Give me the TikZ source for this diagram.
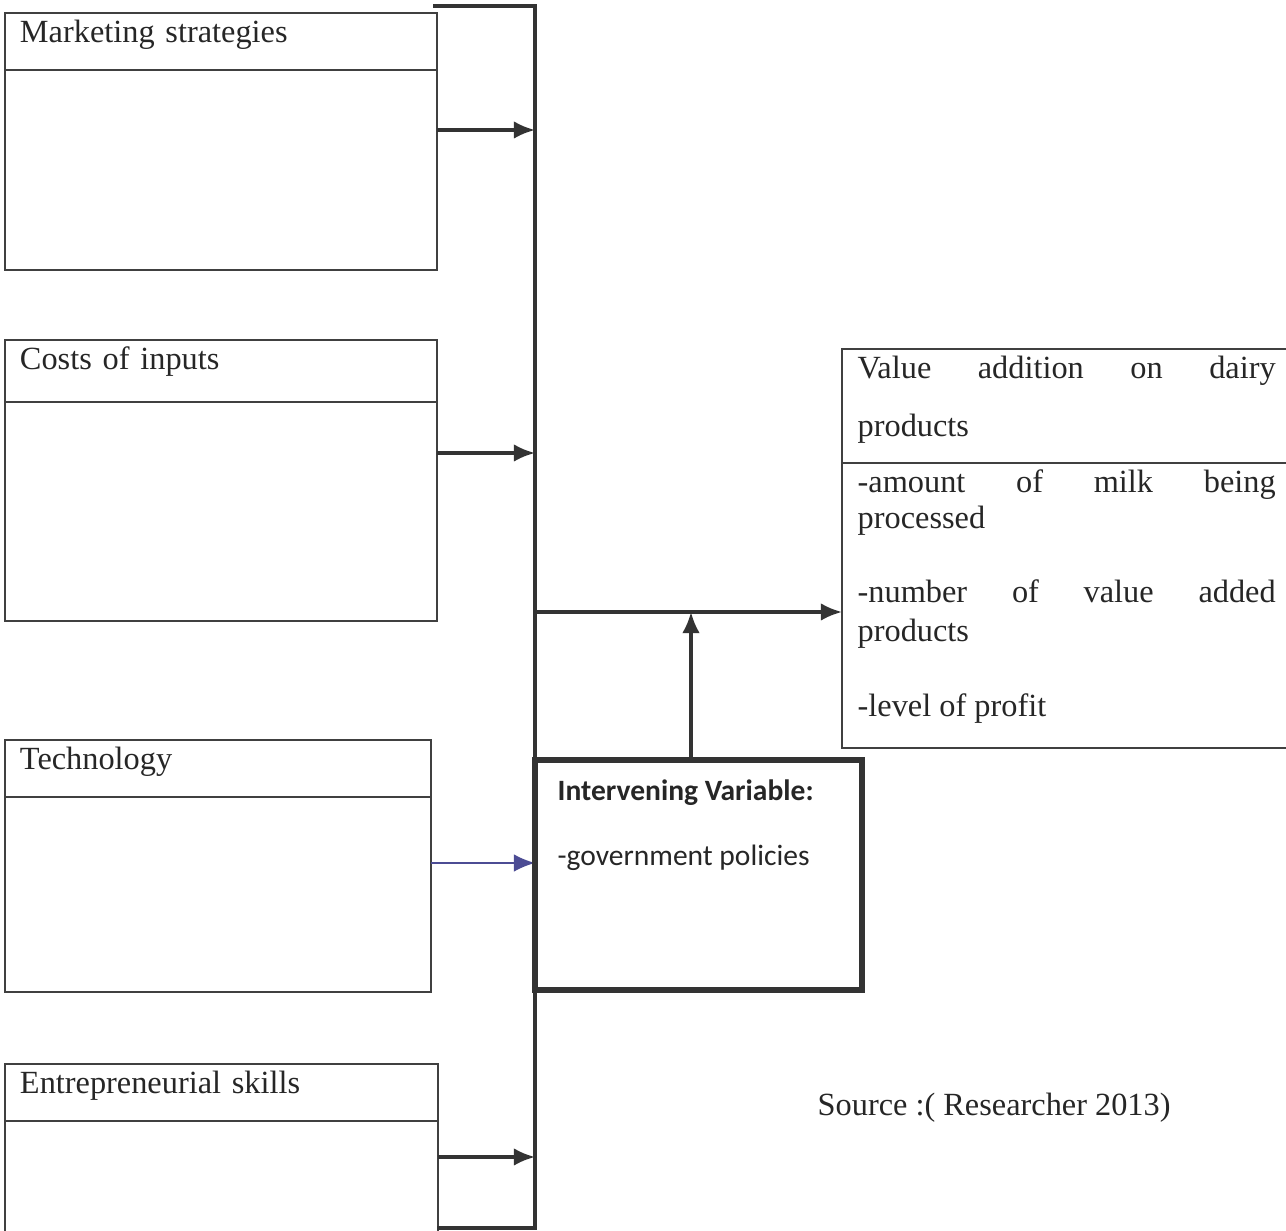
\documentclass[tikz,border=0pt]{standalone}
\usepackage{fontspec}
\setmainfont{Liberation Serif}
\newfontfamily\ivfont{Carlito}
\usetikzlibrary{positioning,arrows.meta}

\newcommand{\jline}[1]{\makebox[4.18cm][s]{#1}}

\tikzset{
  txt/.style={inner sep=0pt, font=\fontsize{9.2}{11}\selectfont, text=black!85},
  head/.style={txt, draw=black!75, line width=.6pt, anchor=north west,
    inner xsep=.15cm, inner ysep=.06cm, outer sep=0pt,
    text width=#1, text height=.24cm, text depth=.21cm, align=left},
  body/.style={draw=black!75, line width=.6pt, inner sep=0pt, outer sep=0pt},
  bar/.style={draw=black!80, line width=.9pt},
  ivbox/.style={draw=black!80, line width=1.5pt, inner sep=0pt, outer sep=0pt, anchor=north west},
  ivtxt/.style={inner sep=0pt, font=\ivfont\fontsize{8.4}{10}\selectfont, text=black!85, anchor=base west},
  arr/.style={-{Latex[length=6pt,width=5pt]}, draw=black!80, line width=.9pt}
}

\begin{document}
\begin{tikzpicture}
\useasboundingbox (0,0) rectangle (12.86,-12.31);

% independent variables
\node[head=4.02cm] (ms) at (0.05,-0.13) {Marketing strategies};
\node[body, minimum width=4.32cm, minimum height=2.00cm, below=0pt of ms] (msb) {};

\node[head=4.02cm, text depth=.26cm] (ci) at (0.05,-3.40) {Costs of inputs};
\node[body, minimum width=4.32cm, minimum height=2.19cm, below=0pt of ci] (cib) {};

\node[head=3.96cm] (tech) at (0.05,-7.40) {Technology};
\node[body, minimum width=4.26cm, minimum height=1.95cm, below=0pt of tech] (techb) {};

\node[head=4.03cm] (es) at (0.05,-10.64) {Entrepreneurial skills};
\node[body, minimum width=4.33cm, minimum height=1.40cm, below=0pt of es] (esb) {};

% bracket
\draw[bar] (4.33,-0.06) -- (5.35,-0.06) -- (5.35,-12.28) -- (4.37,-12.28);
\coordinate (a1) at (5.35,-1.30);
\coordinate (a2) at (5.35,-4.53);
\coordinate (a3) at (5.35,-8.63);
\coordinate (a4) at (5.35,-11.57);
\coordinate (j) at (5.35,-6.12);
\coordinate (k) at (6.91,-6.12);

\draw[arr] (msb.east |- a1) -- (a1);
\draw[arr] (cib.east |- a2) -- (a2);
\draw[arr, draw=blue!40!black!70, line width=.5pt] (techb.east |- a3) -- (a3);
\draw[arr] (esb.east |- a4) -- (a4);

% intervening variable
\node[ivbox, minimum width=3.27cm, minimum height=2.30cm] (iv) at (5.35,-7.60) {};
\node[ivtxt] (ivt) at (5.57,-8.01) {\bfseries Intervening Variable:};
\node[ivtxt] (ivp) at (5.57,-8.66) {-government policies};

% dependent variable
\node[body, anchor=north west, minimum width=4.60cm, minimum height=1.14cm] (vh) at (8.42,-3.49) {};
\node[body, minimum width=4.60cm, minimum height=2.85cm, below=0pt of vh] (vb) {};
\foreach \y/\t [count=\i] in {3.79/{\jline{Value addition on dairy}},
    4.37/{products},
    4.93/{\jline{-amount of milk being}},
    5.29/{processed},
    6.03/{\jline{-number of value added}},
    6.42/{products},
    7.17/{-level of profit}}
  \node[txt, anchor=base west] (v\i) at (8.57,-\y) {\t};

\draw[arr] (j) -- (j -| vb.west);
\draw[arr] (k |- iv.north) -- (k);

\node[txt, anchor=base west] (src) at (8.17,-11.16) {Source :( Researcher 2013)};
\end{tikzpicture}
\end{document}
